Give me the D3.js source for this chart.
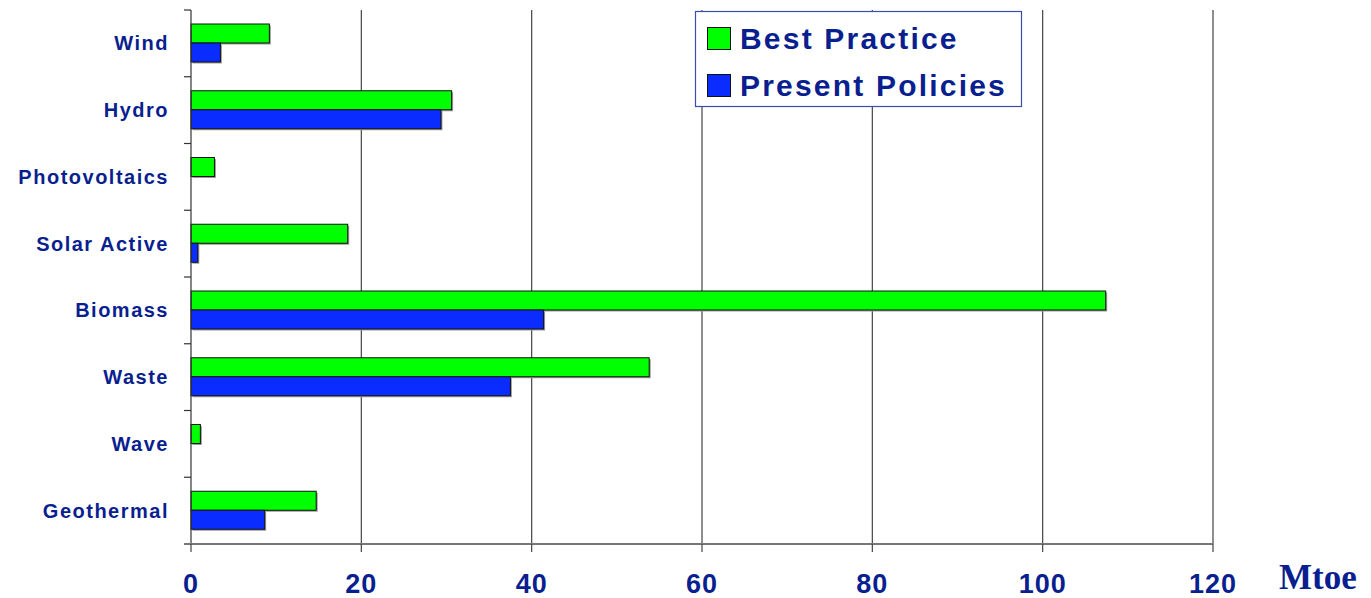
<!DOCTYPE html>
<html>
<head>
<meta charset="utf-8">
<script src="https://cdn.jsdelivr.net/npm/d3@7"></script>
<style>
  body { margin: 0; background: #fff; }
  svg { display: block; }
</style>
</head>
<body>
<svg width="1371" height="598"></svg>
<script>
// data
var categories = ['Wind', 'Hydro', 'Photovoltaics', 'Solar Active', 'Biomass', 'Waste', 'Wave', 'Geothermal'];
var bestPractice = [9.2, 30.6, 2.75, 18.4, 107.4, 53.8, 1.1, 14.7];
var presentPolicies = [3.45, 29.35, 0, 0.8, 41.4, 37.5, 0, 8.65];
var seriesNames = ['Best Practice', 'Present Policies'];
var xTicks = [0, 20, 40, 60, 80, 100, 120];

var textColor = '#0a1f8f';
var colors = ['#00ff00', '#0a2cff'];

var svg = d3.select('svg');
var plotLeft = 191, plotRight = 1213, plotTop = 10, plotBottom = 544;

var xScale = d3.scaleLinear().domain([0, 120]).range([plotLeft, plotRight]);
var yScale = d3.scaleBand().domain(categories).range([plotTop, plotBottom]);
var inner = d3.scaleBand().domain(seriesNames).range([14, 52]);

// gridlines
svg.append('g').selectAll('line')
  .data(xTicks.slice(1))
  .enter().append('line')
  .attr('x1', function (d) { return xScale(d); })
  .attr('x2', function (d) { return xScale(d); })
  .attr('y1', plotTop).attr('y2', plotBottom)
  .attr('stroke', '#444').attr('stroke-width', 1.2);

// bars
var series = [bestPractice, presentPolicies];
series.forEach(function (vals, s) {
  var g = svg.append('g');
  var rows = categories.map(function (c, i) { return { c: c, v: vals[i] }; })
    .filter(function (d) { return d.v > 0; });
  // shadow
  g.selectAll('rect.shadow').data(rows).enter().append('rect')
    .attr('class', 'shadow')
    .attr('x', xScale(0) + 1.5)
    .attr('y', function (d) { return yScale(d.c) + inner(seriesNames[s]) + 1.5; })
    .attr('width', function (d) { return xScale(d.v) - xScale(0); })
    .attr('height', inner.bandwidth())
    .attr('fill', '#999');
  g.selectAll('rect.bar').data(rows).enter().append('rect')
    .attr('class', 'bar')
    .attr('x', xScale(0))
    .attr('y', function (d) { return yScale(d.c) + inner(seriesNames[s]); })
    .attr('width', function (d) { return xScale(d.v) - xScale(0); })
    .attr('height', inner.bandwidth())
    .attr('fill', colors[s])
    .attr('stroke', '#111').attr('stroke-width', 1);
});

// y axis
var yAxis = svg.append('g');
yAxis.append('line')
  .attr('x1', plotLeft).attr('x2', plotLeft).attr('y1', plotTop).attr('y2', plotBottom)
  .attr('stroke', '#333').attr('stroke-width', 1.2);
yAxis.selectAll('line.tick')
  .data(categories)
  .enter().append('line')
  .attr('class', 'tick')
  .attr('x1', plotLeft - 7).attr('x2', plotLeft)
  .attr('y1', function (d) { return yScale(d); })
  .attr('y2', function (d) { return yScale(d); })
  .attr('stroke', '#333').attr('stroke-width', 1.2);
yAxis.selectAll('text')
  .data(categories)
  .enter().append('text')
  .attr('x', 169)
  .attr('y', function (d) { return yScale(d) + yScale.bandwidth() / 2 + 7; })
  .attr('text-anchor', 'end')
  .attr('font-family', 'Liberation Sans, Arial, sans-serif')
  .attr('font-weight', 'bold')
  .attr('font-size', 20)
  .attr('letter-spacing', 1.5)
  .attr('fill', textColor)
  .text(function (d) { return d; });

// x axis
var xAxis = svg.append('g');
xAxis.append('line')
  .attr('x1', plotLeft - 7).attr('x2', plotRight).attr('y1', plotBottom).attr('y2', plotBottom)
  .attr('stroke', '#777').attr('stroke-width', 2);
xAxis.selectAll('line.tick')
  .data(xTicks)
  .enter().append('line')
  .attr('class', 'tick')
  .attr('x1', function (d) { return xScale(d); })
  .attr('x2', function (d) { return xScale(d); })
  .attr('y1', plotBottom).attr('y2', plotBottom + 8)
  .attr('stroke', '#444').attr('stroke-width', 1.2);
xAxis.selectAll('text')
  .data(xTicks)
  .enter().append('text')
  .attr('x', function (d) { return xScale(d); })
  .attr('y', 593)
  .attr('text-anchor', 'middle')
  .attr('font-family', 'Liberation Sans, Arial, sans-serif')
  .attr('font-weight', 'bold')
  .attr('font-size', 27)
  .attr('letter-spacing', 1)
  .attr('fill', textColor)
  .text(function (d) { return d; });

svg.append('text')
  .attr('x', 1279).attr('y', 589)
  .attr('font-family', 'Liberation Serif, Times New Roman, serif')
  .attr('font-weight', 'bold')
  .attr('font-size', 35)
  .attr('fill', textColor)
  .text('Mtoe');

// legend
var legend = svg.append('g');
legend.append('rect')
  .attr('x', 695.5).attr('y', 11.5).attr('width', 326).attr('height', 95)
  .attr('fill', '#fff').attr('stroke', '#3a4db0').attr('stroke-width', 1.2);
var items = legend.selectAll('g.item')
  .data(seriesNames)
  .enter().append('g')
  .attr('transform', function (d, i) { return 'translate(0,' + (i * 47) + ')'; });
items.append('rect')
  .attr('x', 707.5).attr('y', 27.5).attr('width', 23).attr('height', 22)
  .attr('fill', function (d, i) { return colors[i]; })
  .attr('stroke', '#111').attr('stroke-width', 1);
items.append('text')
  .attr('x', 740).attr('y', 49)
  .attr('font-family', 'Liberation Sans, Arial, sans-serif')
  .attr('font-weight', 'bold')
  .attr('font-size', 30)
  .attr('letter-spacing', 2.2)
  .attr('fill', textColor)
  .text(function (d) { return d; });
</script>
</body>
</html>
